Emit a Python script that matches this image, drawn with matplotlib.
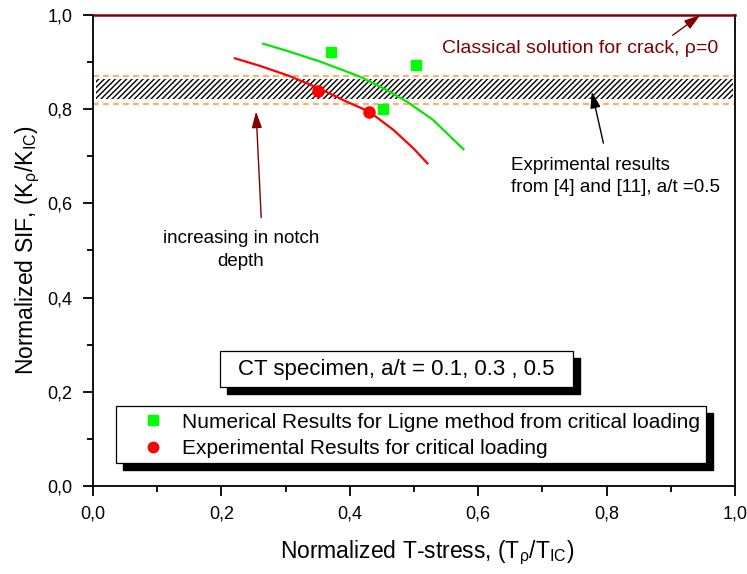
import matplotlib
matplotlib.use("Agg")
import matplotlib.pyplot as plt
from matplotlib.patches import Rectangle
from matplotlib.lines import Line2D
from matplotlib.ticker import MultipleLocator, FuncFormatter

plt.rcParams['font.family'] = ['Liberation Sans', 'DejaVu Sans']
plt.rcParams['mathtext.fontset'] = 'custom'
plt.rcParams['mathtext.rm'] = 'Liberation Sans'
plt.rcParams['mathtext.it'] = 'Liberation Sans:italic'
plt.rcParams['hatch.linewidth'] = 1.0

# ---- data ----
num_x = [0.370, 0.503, 0.452]
num_y = [0.921, 0.894, 0.800]
exp_x = [0.351, 0.430]
exp_y = [0.839, 0.795]

green_curve_x = [0.265, 0.302, 0.354, 0.416, 0.457, 0.489, 0.530, 0.577]
green_curve_y = [0.939, 0.924, 0.901, 0.869, 0.841, 0.816, 0.777, 0.715]
red_curve_x = [0.221, 0.260, 0.307, 0.354, 0.395, 0.430, 0.468, 0.499, 0.521]
red_curve_y = [0.908, 0.892, 0.870, 0.843, 0.816, 0.795, 0.756, 0.717, 0.685]

classical_y = 1.0
band_low, band_high = 0.821, 0.865
band_dash_low, band_dash_high = 0.811, 0.870

xticks = [0.0, 0.2, 0.4, 0.6, 0.8, 1.0]
yticks = [0.0, 0.2, 0.4, 0.6, 0.8, 1.0]

DARKRED = '#800000'
W, H = 642.0, 471.0  # axes size in pixels

fig = plt.figure(figsize=(7.47, 5.74), dpi=100)
ax = fig.add_axes([93/747, 1-486/574, W/747, H/574])
ax.set_xlim(0, 1.0)
ax.set_ylim(0, 1.0)

# classical solution line
ax.axhline(classical_y, color=DARKRED, lw=1.8, zorder=5, clip_on=False)

# hatched band
ax.fill_between([0.004, 0.997], [band_low]*2, [band_high]*2, facecolor='white',
                edgecolor='black', hatch='//////', lw=0, zorder=1)
ax.axhline(band_dash_low, color='#FFA040', lw=1.2, ls=(0, (3.5, 2.5)), zorder=2)
ax.axhline(band_dash_high, color='#FFA040', lw=1.2, ls=(0, (3.5, 2.5)), zorder=2)

# curves
ax.plot(green_curve_x, green_curve_y, color='#00E800', lw=1.6, zorder=3,
        solid_joinstyle='round')
ax.plot(red_curve_x, red_curve_y, color='#FF0000', lw=1.6, zorder=3,
        solid_joinstyle='round')

# points
ax.plot(num_x, num_y, ls='none', marker='s', ms=7.0, color='#00FF00', mec='#00FF00', zorder=4)
ax.plot(exp_x, exp_y, ls='none', marker='o', ms=8.0, color='#FF0000', mec='#FF0000', zorder=4)

arrow_kw = dict(arrowstyle='-|>,head_length=0.7,head_width=0.22', lw=1.0, mutation_scale=14,
                shrinkA=0, shrinkB=0)

# annotations
ax.text(0.543, 0.929, 'Classical solution for crack, ρ=0', color=DARKRED,
        fontsize=14, ha='left', va='center')
ax.annotate('', xy=(0.946, 1.0), xytext=(0.903, 0.957),
            arrowprops=dict(color=DARKRED, **arrow_kw))

ax.text(0.651, 0.657, 'Exprimental results\nfrom [4] and [11], a/t =0.5', color='black',
        fontsize=13.5, ha='left', va='center', linespacing=1.35)
ax.annotate('', xy=(0.777, 0.837), xytext=(0.795, 0.728),
            arrowprops=dict(color='black', **arrow_kw))

ax.text(0.2305, 0.501, 'increasing in notch\ndepth', color='black', fontsize=13.5,
        ha='center', va='center', multialignment='center', linespacing=1.4)
ax.annotate('', xy=(0.254, 0.795), xytext=(0.262, 0.570),
            arrowprops=dict(color=DARKRED, **arrow_kw))

# CT specimen box with shadow
sh = 7/W, 7/H
bx0, bx1, by0, by1 = 0.1978, 0.748, 0.2108, 0.2873
ax.add_patch(Rectangle((bx0 + sh[0], by0 - sh[1]), bx1 - bx0, by1 - by0, transform=ax.transAxes,
                       facecolor='black', edgecolor='black', zorder=6))
ax.add_patch(Rectangle((bx0, by0), bx1 - bx0, by1 - by0, transform=ax.transAxes,
                       facecolor='white', edgecolor='black', lw=0.9, zorder=7))
ax.text((bx0 + bx1) / 2, 0.2477, 'CT specimen, a/t = 0.1, 0.3 , 0.5',
        transform=ax.transAxes, fontsize=16, ha='center', va='center', zorder=8)

# legend box with shadow
lx0, lx1, ly0, ly1 = 0.0354, 0.955, 0.0495, 0.1705
ax.add_patch(Rectangle((lx0 + sh[0], ly0 - sh[1]), lx1 - lx0, ly1 - ly0, transform=ax.transAxes,
                       facecolor='black', edgecolor='black', zorder=6))
ax.add_patch(Rectangle((lx0, ly0), lx1 - lx0, ly1 - ly0, transform=ax.transAxes,
                       facecolor='white', edgecolor='black', lw=0.9, zorder=7))
handles = [Line2D([], [], ls='none', marker='s', ms=7, color='#00FF00'),
           Line2D([], [], ls='none', marker='o', ms=7.5, color='#FF0000')]
labels = ['Numerical Results for Ligne method from critical loading',
          'Experimental Results for critical loading']
leg = ax.legend(handles, labels, loc='center left', bbox_to_anchor=(0.0768, 0.1072),
                frameon=False, fontsize=15, handlelength=1.0, handletextpad=0.89,
                labelspacing=0.36, borderaxespad=0, borderpad=0)
leg.set_zorder(9)

# axes styling
ax.spines['top'].set_visible(False)
for s in ['right', 'left', 'bottom']:
    ax.spines[s].set_linewidth(1.3)

fmt = FuncFormatter(lambda v, p: f'{v:.1f}'.replace('.', ','))
ax.set_xticks(xticks)
ax.set_yticks(yticks)
ax.xaxis.set_major_formatter(fmt)
ax.yaxis.set_major_formatter(fmt)
ax.xaxis.set_minor_locator(MultipleLocator(0.1))
ax.yaxis.set_minor_locator(MultipleLocator(0.1))
ax.tick_params(which='both', direction='out', width=1.3, labelsize=13, top=False, right=False)
ax.tick_params(which='major', length=7)
ax.tick_params(axis='y', which='major', pad=8)
ax.tick_params(axis='x', which='major', pad=7)
ax.tick_params(which='minor', length=4.5)

ax.set_xlabel('Normalized T-stress, (T$_{\\mathrm{ρ}}$/T$_{\\mathrm{IC}}$)', fontsize=16.5)
ax.set_ylabel('Normalized SIF, (K$_{\\mathrm{ρ}}$/K$_{\\mathrm{IC}}$)', fontsize=16.5)
ax.xaxis.set_label_coords(0.52, -0.112)
ax.yaxis.set_label_coords(-0.0794, 0.5)

fig.savefig('out.png', dpi=100)
